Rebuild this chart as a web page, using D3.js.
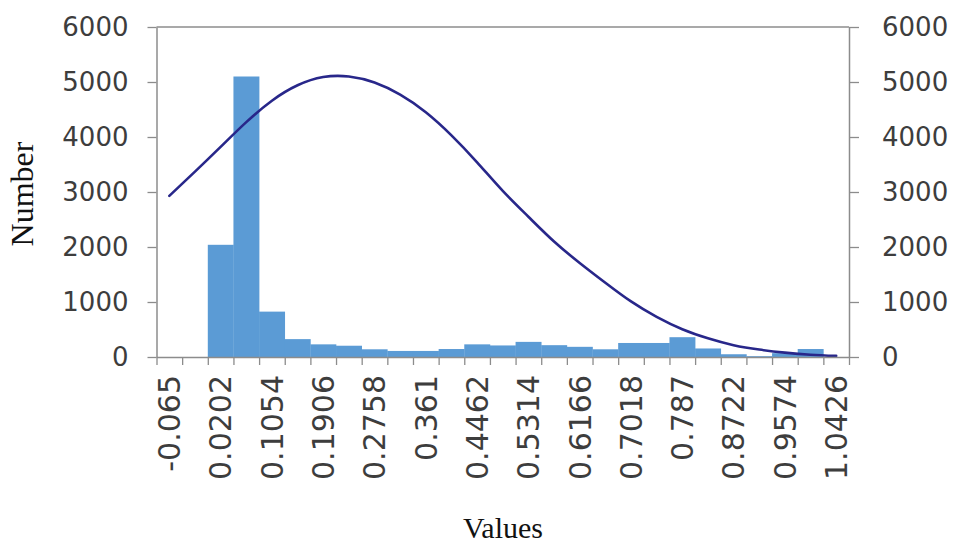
<!DOCTYPE html>
<html>
<head>
<meta charset="utf-8">
<script src="https://cdn.jsdelivr.net/npm/d3@7"></script>
<style>
  html, body { margin: 0; padding: 0; background: #fff; }
  svg { display: block; }
</style>
</head>
<body>
<svg id="chart" width="956" height="549"></svg>
<script>
// Histogram bins (lower edge of each bin) and counts
const categories = [
  "-0.065", "-0.0224", "0.0202", "0.0628", "0.1054", "0.148", "0.1906",
  "0.2332", "0.2758", "0.3184", "0.361", "0.4036", "0.4462", "0.4888",
  "0.5314", "0.574", "0.6166", "0.6592", "0.7018", "0.7444", "0.787",
  "0.8296", "0.8722", "0.9148", "0.9574", "1.0", "1.0426"
];
const counts = [
  0, 0, 2040, 5100, 825, 325, 230, 205, 140, 110, 110, 145, 230, 210,
  275, 215, 185, 140, 255, 255, 360, 155, 50, 15, 70, 145, 0
];
// Fitted distribution curve, read at each bin centre
const fitted = [
  2930, 3370, 3820, 4270, 4660, 4940, 5090, 5100, 4990, 4770, 4450, 4030,
  3540, 3020, 2550, 2100, 1710, 1350, 1010, 730, 505, 340, 215, 135, 80, 42, 20
];
const yTicks = [0, 1000, 2000, 3000, 4000, 5000, 6000];
const yMax = 6000;

const svg = d3.select("#chart");
const plot = { left: 156.5, right: 849, top: 27, bottom: 357 };
const axisColor = "#8c8c8c";
const labelColor = "#3d3d3d";
const tickFont = "DejaVu Sans, Verdana, sans-serif";
const titleFont = "Liberation Serif, Times New Roman, serif";

const x = d3.scaleBand()
  .domain(categories)
  .range([plot.left, plot.right])
  .paddingInner(0).paddingOuter(0);

// bin edges for the tick marks between categories
const xEdge = d3.scaleLinear()
  .domain([0, categories.length])
  .range([plot.left, plot.right]);

const y = d3.scaleLinear()
  .domain([0, yMax])
  .range([plot.bottom, plot.top]);

// bars
svg.append("g")
  .selectAll("rect")
  .data(counts)
  .join("rect")
  .attr("x", (d, i) => x(categories[i]))
  .attr("y", d => y(d))
  .attr("width", x.bandwidth() + 0.3)
  .attr("height", d => y(0) - y(d))
  .attr("fill", "#5b9bd5");

// fitted curve
const line = d3.line()
  .x((d, i) => x(categories[i]) + x.bandwidth() / 2)
  .y(d => y(d))
  .curve(d3.curveNatural);

svg.append("path")
  .datum(fitted)
  .attr("d", line)
  .attr("fill", "none")
  .attr("stroke", "#28278a")
  .attr("stroke-width", 2.6)
  .attr("stroke-linecap", "round");

// top border of the plot area
svg.append("line")
  .attr("x1", plot.left).attr("x2", plot.right)
  .attr("y1", plot.top).attr("y2", plot.top)
  .attr("stroke", axisColor).attr("stroke-width", 1.5);

function styleAxis(g, size) {
  g.selectAll(".domain").attr("stroke", axisColor).attr("stroke-width", 1.5);
  g.selectAll(".tick line").attr("stroke", axisColor).attr("stroke-width", 1.3);
  g.selectAll("text")
    .attr("fill", labelColor)
    .style("font-family", tickFont)
    .style("font-size", (size || 26) + "px");
}

const fmt = d3.format("d");

// left axis
svg.append("g")
  .attr("transform", `translate(${plot.left},0)`)
  .call(d3.axisLeft(y).tickValues(yTicks).tickFormat(fmt)
    .tickSize(9).tickPadding(19).tickSizeOuter(0))
  .call(g => styleAxis(g, 26));

// right axis
svg.append("g")
  .attr("transform", `translate(${plot.right},0)`)
  .call(d3.axisRight(y).tickValues(yTicks).tickFormat(fmt)
    .tickSize(10).tickPadding(23).tickSizeOuter(0))
  .call(g => styleAxis(g, 26));

// bottom axis: tick marks on bin edges
svg.append("g")
  .attr("transform", `translate(0,${plot.bottom})`)
  .call(d3.axisBottom(xEdge).tickValues(d3.range(categories.length + 1))
    .tickFormat("").tickSize(8).tickSizeOuter(0))
  .call(g => styleAxis(g));

// bottom axis labels: every other bin, rotated
const shown = categories.filter((d, i) => i % 2 === 0);
const xLabels = svg.append("g")
  .attr("transform", `translate(0,${plot.bottom})`)
  .call(d3.axisBottom(x).tickValues(shown).tickSize(0).tickPadding(0))
  .call(g => styleAxis(g, 30));
xLabels.select(".domain").remove();
xLabels.selectAll(".tick text")
  .attr("transform", "rotate(-90)")
  .attr("text-anchor", "end")
  .attr("x", -18)
  .attr("y", 0)
  .attr("dy", "0.36em");

// axis titles
svg.append("text")
  .attr("transform", `translate(33,${(plot.top + plot.bottom) / 2 + 2}) rotate(-90)`)
  .attr("text-anchor", "middle")
  .style("font-family", titleFont)
  .style("font-size", "32px")
  .attr("fill", "#111")
  .text("Number");

svg.append("text")
  .attr("x", 503)
  .attr("y", 538)
  .attr("text-anchor", "middle")
  .style("font-family", titleFont)
  .style("font-size", "30px")
  .attr("fill", "#111")
  .text("Values");
</script>
</body>
</html>
